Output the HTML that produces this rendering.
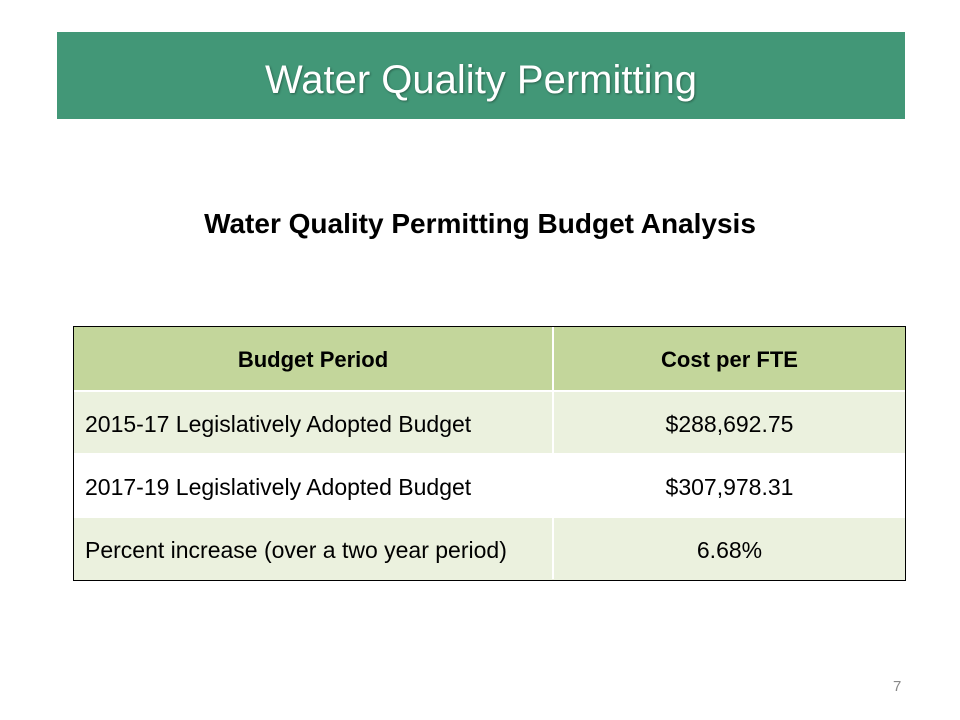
<!DOCTYPE html>
<html><head><meta charset="utf-8"><style>
body{margin:0;width:960px;height:720px;background:#fff;position:relative;font-family:"Liberation Sans",sans-serif;overflow:hidden}
.bar{position:absolute;left:57px;top:32px;width:848px;height:87px;background:#429777;color:#fff;font-size:40px;text-align:center;line-height:97px;text-shadow:1px 1px 2px rgba(0,0,0,0.35)}
.sub{position:absolute;left:0;width:960px;top:208px;text-align:center;font-size:28px;font-weight:bold;color:#000}
.wrap{position:absolute;left:73px;top:326px;width:831px;height:253px;border:1px solid #000;overflow:hidden;background:#ebf1de}
table{width:831px;border-collapse:collapse;table-layout:fixed;font-size:23px;color:#000}
td{height:58px;padding:3px 0 0 0;border-left:2px solid #fff;border-top:2px solid #fff;white-space:nowrap}
td:first-child{border-left:none}
tr:first-child td{border-top:none;height:60px}
td.l{width:467px;padding-left:11px}
td.r{text-align:center}
tr.h td{background:#c3d69b;font-weight:bold;text-align:center;padding-left:0;font-size:22px}
tr.a td{background:#ebf1de}
tr.b td{background:#fff}
.pg{position:absolute;left:893px;top:678px;font-size:15px;color:#888}
</style></head><body>
<div class="bar">Water Quality Permitting</div>
<div class="sub">Water Quality Permitting Budget Analysis</div>
<div class="wrap"><table>
<tr class="h"><td class="l" style="padding-left:0;width:478px">Budget Period</td><td class="r">Cost per FTE</td></tr>
<tr class="a"><td class="l">2015-17 Legislatively Adopted Budget</td><td class="r">$288,692.75</td></tr>
<tr class="b"><td class="l">2017-19 Legislatively Adopted Budget</td><td class="r">$307,978.31</td></tr>
<tr class="a"><td class="l">Percent increase (over a two year period)</td><td class="r">6.68%</td></tr>
</table></div>
<div class="pg">7</div>
</body></html>
